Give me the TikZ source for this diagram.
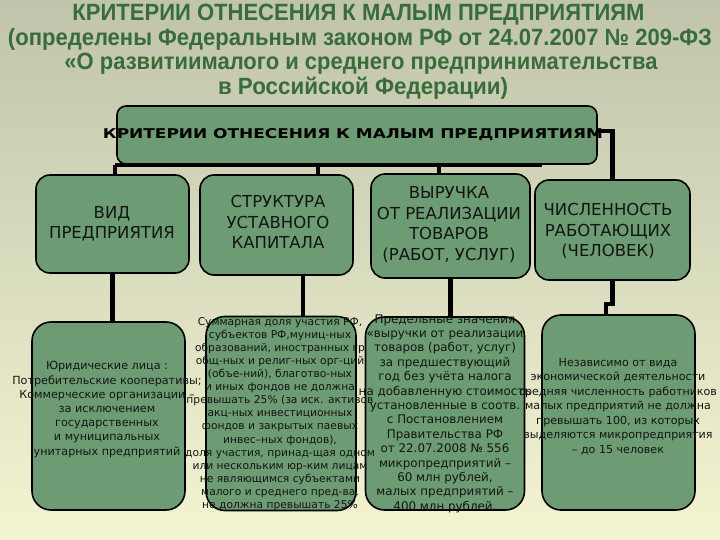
\documentclass[tikz,border=0pt]{standalone}
\usepackage{fontspec}
\usepackage{graphicx}
\setmainfont{DejaVu Sans}
\newfontfamily\titlefont{Liberation Sans}
\definecolor{bgtop}{RGB}{192,196,170}
\definecolor{bgbot}{RGB}{244,244,210}
\definecolor{boxgreen}{RGB}{109,155,115}
\definecolor{titlegreen}{RGB}{56,108,58}
\definecolor{textdark}{RGB}{18,22,18}
\begin{document}
\begin{tikzpicture}[x=1pt,y=-1pt,
  box/.style={draw=black,line width=1.6pt,fill=boxgreen,inner sep=0pt},
  topbox/.style={box,rounded corners=9pt,minimum width=480pt,minimum height=58pt},
  midbox/.style={box,rounded corners=14pt},
  lowbox/.style={box,rounded corners=19pt},
  conn/.style={line width=4.4pt,draw=black},
  ttl/.style={inner sep=0pt,anchor=base,text=titlegreen,font=\titlefont\bfseries\fontsize{23.5}{23.5}\selectfont},
  captext/.style={inner sep=0pt,align=center,text=textdark,font=\fontsize{16.5}{20.5}\selectfont},
  body/.style={inner sep=0pt,align=center,text=textdark}
]
\fill[top color=bgtop,bottom color=bgbot] (0,0) rectangle (720,540);
\path[use as bounding box] (0,0) rectangle (720,540);

% title
\node[ttl] (t1) at (358.5,21) {\resizebox{572pt}{\height}{КРИТЕРИИ ОТНЕСЕНИЯ К МАЛЫМ ПРЕДПРИЯТИЯМ}};
\node[ttl] (t2) at (360,46) {\resizebox{704pt}{\height}{(определены Федеральным законом РФ от 24.07.2007 № 209-ФЗ}};
\node[ttl] (t3) at (361,70) {\resizebox{593pt}{\height}{«О развитиималого и среднего предпринимательства}};
\node[ttl] (t4) at (363,95) {\resizebox{290pt}{\height}{в Российской Федерации)}};

% boxes
\node[topbox] (top) at (357,135) {};
\node[midbox,minimum width=153pt,minimum height=98pt] (b1) at (112.5,224) {};
\node[midbox,minimum width=153pt,minimum height=100pt] (b2) at (276.5,225) {};
\node[midbox,minimum width=159pt,minimum height=104pt] (b3) at (450.5,226) {};
\node[midbox,minimum width=155pt,minimum height=100pt] (b4) at (612.5,230) {};
\node[lowbox,minimum width=153pt,minimum height=188pt] (b5) at (108.5,416) {};
\node[lowbox,minimum width=150pt,minimum height=194pt] (b6) at (281,413.5) {};
\node[lowbox,minimum width=159pt,minimum height=193pt] (b7) at (445,413.5) {};
\node[lowbox,minimum width=153pt,minimum height=195pt] (b8) at (618.5,412.5) {};

% connectors
\coordinate (busL) at (115,165);
\coordinate (busR) at (542,165);
\coordinate (s2) at (318,165);
\coordinate (s3) at (439,165);
\coordinate (rj) at (597,131);
\coordinate (c6) at (303,0);
\coordinate (k) at (606,304);
\draw[conn] (busL) -- (busR);
\draw[conn] (busL) -- (busL |- b1.north);
\draw[conn] (s2) -- (s2 |- b2.north);
\draw[conn] (s3) -- (s3 |- b3.north);
\draw[conn] (rj) -| (b4.north);
\draw[conn] (b1.south) -- (b1.south |- b5.north);
\draw[conn] (b2.south -| c6) -- (b6.north -| c6);
\draw[conn] (b3.south) -- (b3.south |- b7.north);
\draw[conn] (b4.south) |- (k) -- (k |- b8.north);

% texts
\node[inner sep=0pt,anchor=base,text=black] (hdr) at (353,139) {\resizebox{500pt}{10pt}{\bfseries КРИТЕРИИ ОТНЕСЕНИЯ К МАЛЫМ ПРЕДПРИЯТИЯМ}};
\node[captext] (x1) at (112,224) {ВИД\\ПРЕДПРИЯТИЯ};
\node[captext] (x2) at (278,222) {СТРУКТУРА\\УСТАВНОГО\\КАПИТАЛА};
\node[captext] (x3) at (449,224.5) {ВЫРУЧКА\\ОТ РЕАЛИЗАЦИИ\\ТОВАРОВ\\(РАБОТ, УСЛУГ)};
\node[captext] (x4) at (608,231) {ЧИСЛЕННОСТЬ\\РАБОТАЮЩИХ\\(ЧЕЛОВЕК)};

\node[body,font=\fontsize{11.2}{14.2}\selectfont] (x5) at (107,409.5) {Юридические лица :\\Потребительские кооперативы;\\Коммерческие организации –\\за исключением\\государственных\\и муниципальных\\унитарных предприятий};
\node[body,font=\fontsize{10.7}{13.1}\selectfont] (x6) at (280,414) {Суммарная доля участия РФ,\\субъектов РФ,муниц-ных\\образований, иностранных гр\\общ-ных и религ-ных орг-ций\\(объе-ний), благотво-ных\\и иных фондов не должна\\превышать 25\% (за иск. активов\\акц-ных инвестиционных\\фондов и закрытых паевых\\инвес–ных фондов),\\доля участия, принад-щая одном\\или нескольким юр-ким лицам\\не являющимся субъектами\\малого и среднего пред-ва,\\не должна превышать 25\%};
\node[body,font=\fontsize{11.9}{14.4}\selectfont] (x7) at (445,413.5) {Предельные значения\\«выручки от реализации\\товаров (работ, услуг)\\за предшествующий\\год без учёта налога\\на добавленную стоимость\\установленные в соотв.\\с Постановлением\\Правительства РФ\\от 22.07.2008 № 556\\микропредприятий –\\60 млн рублей,\\малых предприятий –\\400 млн рублей.};
\node[body,font=\fontsize{11.1}{14.5}\selectfont] (x8) at (618,406.5) {Независимо от вида\\экономической деятельности\\средняя численность работников\\малых предприятий не должна\\превышать 100, из которых\\выделяются микропредприятия\\– до 15 человек};
\end{tikzpicture}
\end{document}
